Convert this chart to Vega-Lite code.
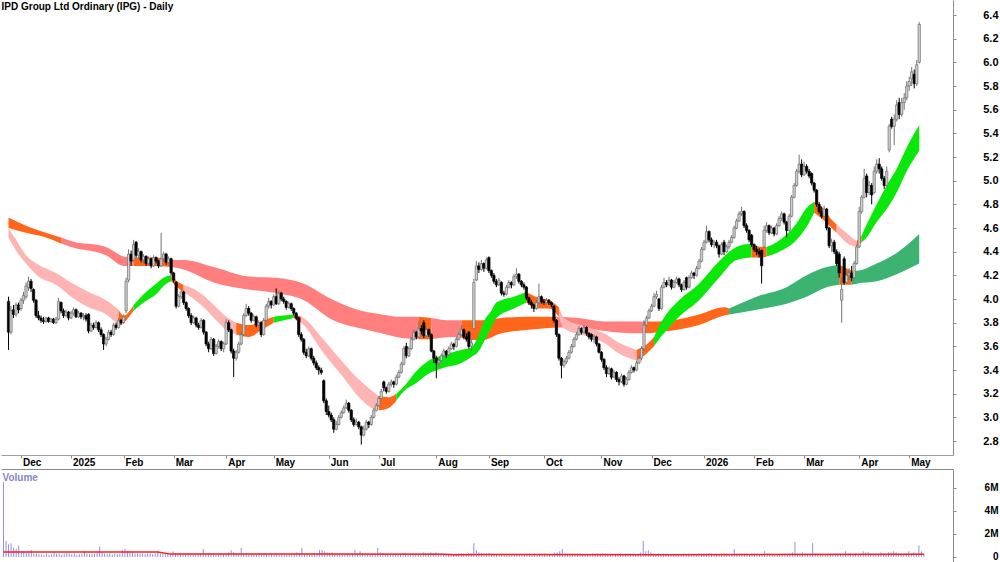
{
"$schema": "https://vega.github.io/schema/vega-lite/v6.json",
"padding": 0,
"background": "white",
"spacing": 0,
"title": {"text": "IPD Group Ltd Ordinary (IPG) - Daily", "anchor": "start", "offset": -20, "baseline": "alphabetic", "font": "Liberation Sans", "fontSize": 10, "fontWeight": "bold", "color": "#000000", "dx": 1},
"config": {
 "view": {"stroke": null},
 "axis": {"labelFont": "Liberation Sans", "labelFontWeight": "bold", "labelColor": "#000000", "domainColor": "#8a8a8a", "tickColor": "#8a8a8a", "grid": false, "title": null, "labelOverlap": false, "labelFlush": false, "labelBound": false}
},
"datasets": {
"c": [
{"i":0,"o":3.98,"h":4.02,"l":3.57,"c":3.72,"v":6.5},
{"i":1,"o":3.72,"h":3.94,"l":3.70,"c":3.90,"v":1.4},
{"i":2,"o":3.91,"h":3.95,"l":3.84,"c":3.87,"v":1.1},
{"i":3,"o":3.87,"h":3.97,"l":3.85,"c":3.95,"v":1.2},
{"i":4,"o":3.95,"h":3.97,"l":3.88,"c":3.91,"v":0.8},
{"i":5,"o":3.92,"h":4.01,"l":3.90,"c":3.99,"v":0.7},
{"i":6,"o":3.99,"h":4.06,"l":3.96,"c":4.03,"v":1.0},
{"i":7,"o":4.02,"h":4.14,"l":4.00,"c":4.11,"v":0.5},
{"i":8,"o":4.10,"h":4.19,"l":4.07,"c":4.15,"v":0.5},
{"i":9,"o":4.15,"h":4.17,"l":4.06,"c":4.09,"v":0.4},
{"i":10,"o":4.08,"h":4.09,"l":3.97,"c":3.99,"v":0.5},
{"i":11,"o":3.99,"h":4.00,"l":3.84,"c":3.86,"v":0.6},
{"i":12,"o":3.86,"h":3.90,"l":3.82,"c":3.84,"v":0.3},
{"i":13,"o":3.84,"h":3.86,"l":3.80,"c":3.82,"v":0.3},
{"i":14,"o":3.82,"h":3.85,"l":3.79,"c":3.81,"v":0.25},
{"i":15,"o":3.81,"h":3.85,"l":3.80,"c":3.84,"v":0.2},
{"i":16,"o":3.84,"h":3.85,"l":3.80,"c":3.81,"v":0.2},
{"i":17,"o":3.81,"h":3.84,"l":3.80,"c":3.83,"v":0.3},
{"i":18,"o":3.83,"h":3.84,"l":3.79,"c":3.80,"v":0.2},
{"i":19,"o":3.80,"h":3.85,"l":3.79,"c":3.83,"v":0.25},
{"i":20,"o":3.83,"h":4.01,"l":3.82,"c":3.98,"v":0.4},
{"i":21,"o":3.97,"h":3.98,"l":3.88,"c":3.90,"v":0.3},
{"i":22,"o":3.90,"h":3.92,"l":3.84,"c":3.86,"v":0.3},
{"i":23,"o":3.86,"h":3.91,"l":3.85,"c":3.89,"v":0.2},
{"i":24,"o":3.89,"h":3.90,"l":3.82,"c":3.84,"v":0.3},
{"i":25,"o":3.84,"h":3.90,"l":3.83,"c":3.88,"v":0.35},
{"i":26,"o":3.88,"h":3.93,"l":3.86,"c":3.91,"v":0.3},
{"i":27,"o":3.91,"h":3.92,"l":3.84,"c":3.85,"v":0.25},
{"i":28,"o":3.85,"h":3.90,"l":3.84,"c":3.88,"v":0.3},
{"i":29,"o":3.88,"h":3.89,"l":3.83,"c":3.85,"v":0.2},
{"i":30,"o":3.85,"h":3.88,"l":3.82,"c":3.86,"v":0.25},
{"i":31,"o":3.86,"h":3.88,"l":3.81,"c":3.83,"v":0.3},
{"i":32,"o":3.87,"h":3.88,"l":3.71,"c":3.73,"v":0.5},
{"i":33,"o":3.73,"h":3.80,"l":3.72,"c":3.78,"v":0.3},
{"i":34,"o":3.78,"h":3.80,"l":3.74,"c":3.76,"v":0.25},
{"i":35,"o":3.76,"h":3.82,"l":3.75,"c":3.80,"v":0.3},
{"i":36,"o":3.80,"h":3.81,"l":3.72,"c":3.74,"v":0.3},
{"i":37,"o":3.74,"h":3.76,"l":3.68,"c":3.70,"v":0.35},
{"i":38,"o":3.70,"h":3.71,"l":3.57,"c":3.62,"v":0.9},
{"i":39,"o":3.62,"h":3.68,"l":3.60,"c":3.66,"v":0.4},
{"i":40,"o":3.66,"h":3.74,"l":3.65,"c":3.72,"v":0.3},
{"i":41,"o":3.72,"h":3.74,"l":3.68,"c":3.70,"v":0.25},
{"i":42,"o":3.70,"h":3.80,"l":3.69,"c":3.78,"v":0.3},
{"i":43,"o":3.78,"h":3.80,"l":3.74,"c":3.76,"v":0.2},
{"i":44,"o":3.76,"h":3.84,"l":3.75,"c":3.82,"v":0.3},
{"i":45,"o":3.82,"h":3.83,"l":3.78,"c":3.80,"v":0.25},
{"i":46,"o":3.80,"h":3.87,"l":3.79,"c":3.85,"v":0.3},
{"i":47,"o":3.90,"h":4.18,"l":3.88,"c":4.15,"v":0.6},
{"i":48,"o":4.16,"h":4.42,"l":4.14,"c":4.38,"v":0.7},
{"i":49,"o":4.38,"h":4.41,"l":4.28,"c":4.32,"v":0.5},
{"i":50,"o":4.33,"h":4.50,"l":4.32,"c":4.46,"v":0.5},
{"i":51,"o":4.48,"h":4.49,"l":4.35,"c":4.37,"v":0.4},
{"i":52,"o":4.37,"h":4.43,"l":4.34,"c":4.40,"v":0.3},
{"i":53,"o":4.40,"h":4.41,"l":4.31,"c":4.33,"v":0.3},
{"i":54,"o":4.33,"h":4.38,"l":4.30,"c":4.36,"v":0.3},
{"i":55,"o":4.36,"h":4.37,"l":4.28,"c":4.30,"v":0.3},
{"i":56,"o":4.30,"h":4.36,"l":4.29,"c":4.34,"v":0.25},
{"i":57,"o":4.34,"h":4.35,"l":4.26,"c":4.28,"v":0.3},
{"i":58,"o":4.28,"h":4.37,"l":4.27,"c":4.35,"v":0.3},
{"i":59,"o":4.35,"h":4.36,"l":4.30,"c":4.32,"v":0.25},
{"i":60,"o":4.32,"h":4.33,"l":4.26,"c":4.28,"v":0.3},
{"i":61,"o":4.28,"h":4.56,"l":4.27,"c":4.34,"v":0.5},
{"i":62,"o":4.34,"h":4.40,"l":4.32,"c":4.38,"v":0.3},
{"i":63,"o":4.38,"h":4.39,"l":4.29,"c":4.31,"v":0.3},
{"i":64,"o":4.31,"h":4.36,"l":4.30,"c":4.34,"v":0.25},
{"i":65,"o":4.34,"h":4.35,"l":4.20,"c":4.22,"v":0.3},
{"i":66,"o":4.22,"h":4.23,"l":4.14,"c":4.16,"v":0.3},
{"i":67,"o":4.14,"h":4.15,"l":3.92,"c":3.94,"v":0.5},
{"i":68,"o":3.94,"h":4.04,"l":3.93,"c":4.02,"v":0.3},
{"i":69,"o":4.02,"h":4.08,"l":4.00,"c":4.06,"v":0.3},
{"i":70,"o":4.06,"h":4.07,"l":3.95,"c":3.97,"v":0.3},
{"i":71,"o":3.97,"h":3.98,"l":3.90,"c":3.92,"v":0.3},
{"i":72,"o":3.92,"h":3.93,"l":3.84,"c":3.86,"v":0.3},
{"i":73,"o":3.86,"h":3.88,"l":3.78,"c":3.80,"v":0.35},
{"i":74,"o":3.80,"h":3.86,"l":3.79,"c":3.84,"v":0.3},
{"i":75,"o":3.84,"h":3.85,"l":3.76,"c":3.78,"v":0.3},
{"i":76,"o":3.78,"h":3.80,"l":3.74,"c":3.76,"v":0.25},
{"i":77,"o":3.76,"h":3.84,"l":3.75,"c":3.82,"v":0.3},
{"i":78,"o":3.82,"h":3.83,"l":3.70,"c":3.72,"v":0.3},
{"i":79,"o":3.72,"h":3.73,"l":3.60,"c":3.62,"v":0.7},
{"i":80,"o":3.62,"h":3.64,"l":3.55,"c":3.58,"v":0.3},
{"i":81,"o":3.58,"h":3.68,"l":3.57,"c":3.66,"v":0.3},
{"i":82,"o":3.66,"h":3.67,"l":3.52,"c":3.54,"v":0.35},
{"i":83,"o":3.54,"h":3.62,"l":3.53,"c":3.60,"v":0.3},
{"i":84,"o":3.60,"h":3.66,"l":3.58,"c":3.64,"v":0.25},
{"i":85,"o":3.64,"h":3.65,"l":3.56,"c":3.58,"v":0.3},
{"i":86,"o":3.58,"h":3.64,"l":3.55,"c":3.62,"v":0.3},
{"i":87,"o":3.62,"h":3.83,"l":3.61,"c":3.80,"v":0.3},
{"i":88,"o":3.80,"h":3.82,"l":3.72,"c":3.74,"v":0.3},
{"i":89,"o":3.74,"h":3.75,"l":3.54,"c":3.56,"v":0.4},
{"i":90,"o":3.56,"h":3.58,"l":3.34,"c":3.50,"v":0.6},
{"i":91,"o":3.50,"h":3.57,"l":3.48,"c":3.55,"v":0.4},
{"i":92,"o":3.55,"h":3.64,"l":3.54,"c":3.62,"v":0.3},
{"i":93,"o":3.62,"h":3.72,"l":3.61,"c":3.70,"v":0.3},
{"i":94,"o":3.70,"h":3.88,"l":3.69,"c":3.86,"v":0.8},
{"i":95,"o":3.86,"h":3.96,"l":3.85,"c":3.92,"v":0.3},
{"i":96,"o":3.92,"h":3.94,"l":3.86,"c":3.88,"v":0.3},
{"i":97,"o":3.88,"h":3.89,"l":3.80,"c":3.82,"v":0.25},
{"i":98,"o":3.82,"h":3.87,"l":3.81,"c":3.85,"v":0.25},
{"i":99,"o":3.85,"h":3.86,"l":3.76,"c":3.78,"v":0.3},
{"i":100,"o":3.78,"h":3.82,"l":3.77,"c":3.80,"v":0.25},
{"i":101,"o":3.80,"h":3.81,"l":3.68,"c":3.70,"v":0.35},
{"i":102,"o":3.70,"h":3.84,"l":3.69,"c":3.82,"v":0.3},
{"i":103,"o":3.82,"h":3.96,"l":3.81,"c":3.94,"v":0.3},
{"i":104,"o":3.94,"h":4.01,"l":3.92,"c":3.98,"v":0.3},
{"i":105,"o":3.98,"h":3.99,"l":3.92,"c":3.95,"v":0.25},
{"i":106,"o":3.95,"h":4.04,"l":3.94,"c":4.02,"v":0.3},
{"i":107,"o":4.02,"h":4.09,"l":3.95,"c":3.96,"v":0.3},
{"i":108,"o":3.96,"h":4.07,"l":3.95,"c":4.05,"v":0.3},
{"i":109,"o":4.05,"h":4.06,"l":3.98,"c":4.00,"v":0.25},
{"i":110,"o":4.00,"h":4.02,"l":3.96,"c":3.98,"v":0.2},
{"i":111,"o":3.98,"h":3.99,"l":3.91,"c":3.93,"v":0.25},
{"i":112,"o":3.93,"h":3.98,"l":3.92,"c":3.96,"v":0.2},
{"i":113,"o":3.96,"h":3.97,"l":3.90,"c":3.92,"v":0.25},
{"i":114,"o":3.92,"h":3.93,"l":3.86,"c":3.88,"v":0.3},
{"i":115,"o":3.88,"h":3.89,"l":3.82,"c":3.84,"v":0.3},
{"i":116,"o":3.84,"h":3.85,"l":3.68,"c":3.70,"v":0.4},
{"i":117,"o":3.70,"h":3.72,"l":3.64,"c":3.66,"v":0.35},
{"i":118,"o":3.66,"h":3.67,"l":3.53,"c":3.55,"v":0.8},
{"i":119,"o":3.55,"h":3.58,"l":3.50,"c":3.52,"v":0.3},
{"i":120,"o":3.52,"h":3.60,"l":3.51,"c":3.58,"v":0.3},
{"i":121,"o":3.58,"h":3.59,"l":3.48,"c":3.50,"v":0.3},
{"i":122,"o":3.50,"h":3.52,"l":3.44,"c":3.46,"v":0.3},
{"i":123,"o":3.46,"h":3.48,"l":3.40,"c":3.42,"v":0.3},
{"i":124,"o":3.42,"h":3.44,"l":3.36,"c":3.40,"v":0.3},
{"i":125,"o":3.40,"h":3.42,"l":3.36,"c":3.38,"v":0.6},
{"i":126,"o":3.31,"h":3.32,"l":3.12,"c":3.14,"v":0.6},
{"i":127,"o":3.14,"h":3.16,"l":3.02,"c":3.05,"v":0.5},
{"i":128,"o":3.05,"h":3.10,"l":3.00,"c":3.02,"v":0.4},
{"i":129,"o":3.02,"h":3.04,"l":2.96,"c":2.98,"v":0.35},
{"i":130,"o":2.98,"h":3.00,"l":2.87,"c":2.90,"v":0.4},
{"i":131,"o":2.90,"h":2.97,"l":2.89,"c":2.94,"v":0.3},
{"i":132,"o":2.94,"h":3.02,"l":2.93,"c":3.00,"v":0.3},
{"i":133,"o":3.00,"h":3.06,"l":2.99,"c":3.04,"v":0.3},
{"i":134,"o":3.04,"h":3.10,"l":3.03,"c":3.08,"v":0.3},
{"i":135,"o":3.08,"h":3.15,"l":3.07,"c":3.12,"v":0.3},
{"i":136,"o":3.12,"h":3.13,"l":3.04,"c":3.06,"v":0.3},
{"i":137,"o":3.06,"h":3.07,"l":2.96,"c":2.98,"v":0.3},
{"i":138,"o":2.98,"h":3.00,"l":2.92,"c":2.94,"v":0.3},
{"i":139,"o":2.94,"h":2.99,"l":2.93,"c":2.96,"v":0.6},
{"i":140,"o":2.96,"h":2.97,"l":2.90,"c":2.92,"v":0.3},
{"i":141,"o":2.92,"h":2.93,"l":2.77,"c":2.85,"v":0.5},
{"i":142,"o":2.85,"h":2.93,"l":2.84,"c":2.90,"v":0.35},
{"i":143,"o":2.90,"h":2.98,"l":2.89,"c":2.96,"v":0.3},
{"i":144,"o":2.96,"h":2.97,"l":2.91,"c":2.94,"v":0.25},
{"i":145,"o":2.94,"h":3.02,"l":2.93,"c":3.00,"v":0.3},
{"i":146,"o":3.00,"h":3.08,"l":2.99,"c":3.06,"v":0.3},
{"i":147,"o":3.06,"h":3.12,"l":3.05,"c":3.10,"v":0.3},
{"i":148,"o":3.10,"h":3.18,"l":3.09,"c":3.16,"v":0.8},
{"i":149,"o":3.16,"h":3.24,"l":3.15,"c":3.22,"v":0.4},
{"i":150,"o":3.30,"h":3.31,"l":3.22,"c":3.25,"v":0.35},
{"i":151,"o":3.25,"h":3.26,"l":3.20,"c":3.22,"v":0.3},
{"i":152,"o":3.22,"h":3.30,"l":3.21,"c":3.28,"v":0.3},
{"i":153,"o":3.28,"h":3.32,"l":3.26,"c":3.30,"v":0.3},
{"i":154,"o":3.30,"h":3.31,"l":3.25,"c":3.28,"v":0.25},
{"i":155,"o":3.28,"h":3.36,"l":3.27,"c":3.34,"v":0.3},
{"i":156,"o":3.34,"h":3.40,"l":3.33,"c":3.38,"v":0.3},
{"i":157,"o":3.38,"h":3.47,"l":3.37,"c":3.45,"v":0.3},
{"i":158,"o":3.45,"h":3.60,"l":3.44,"c":3.58,"v":0.35},
{"i":159,"o":3.60,"h":3.63,"l":3.50,"c":3.52,"v":0.35},
{"i":160,"o":3.52,"h":3.60,"l":3.51,"c":3.58,"v":0.3},
{"i":161,"o":3.58,"h":3.68,"l":3.57,"c":3.66,"v":0.3},
{"i":162,"o":3.66,"h":3.74,"l":3.65,"c":3.72,"v":0.3},
{"i":163,"o":3.72,"h":3.73,"l":3.66,"c":3.68,"v":0.3},
{"i":164,"o":3.68,"h":3.82,"l":3.67,"c":3.75,"v":0.35},
{"i":165,"o":3.75,"h":3.78,"l":3.70,"c":3.73,"v":0.3},
{"i":166,"o":3.80,"h":3.82,"l":3.67,"c":3.69,"v":0.4},
{"i":167,"o":3.69,"h":3.76,"l":3.68,"c":3.74,"v":0.3},
{"i":168,"o":3.74,"h":3.75,"l":3.68,"c":3.70,"v":0.3},
{"i":169,"o":3.70,"h":3.71,"l":3.55,"c":3.56,"v":0.4},
{"i":170,"o":3.56,"h":3.57,"l":3.46,"c":3.50,"v":0.35},
{"i":171,"o":3.50,"h":3.52,"l":3.33,"c":3.46,"v":0.4},
{"i":172,"o":3.46,"h":3.50,"l":3.43,"c":3.48,"v":0.3},
{"i":173,"o":3.48,"h":3.54,"l":3.47,"c":3.52,"v":0.3},
{"i":174,"o":3.52,"h":3.58,"l":3.51,"c":3.56,"v":0.3},
{"i":175,"o":3.56,"h":3.57,"l":3.50,"c":3.53,"v":0.3},
{"i":176,"o":3.53,"h":3.60,"l":3.52,"c":3.58,"v":0.3},
{"i":177,"o":3.58,"h":3.64,"l":3.57,"c":3.62,"v":0.3},
{"i":178,"o":3.62,"h":3.63,"l":3.57,"c":3.60,"v":0.25},
{"i":179,"o":3.60,"h":3.68,"l":3.59,"c":3.66,"v":0.3},
{"i":180,"o":3.66,"h":3.72,"l":3.65,"c":3.70,"v":0.3},
{"i":181,"o":3.70,"h":3.78,"l":3.69,"c":3.74,"v":0.35},
{"i":182,"o":3.74,"h":3.75,"l":3.66,"c":3.68,"v":0.3},
{"i":183,"o":3.68,"h":3.71,"l":3.64,"c":3.66,"v":0.3},
{"i":184,"o":3.72,"h":3.73,"l":3.58,"c":3.60,"v":0.35},
{"i":185,"o":3.60,"h":3.66,"l":3.56,"c":3.63,"v":0.3},
{"i":186,"o":3.75,"h":4.17,"l":3.74,"c":4.14,"v":1.2},
{"i":187,"o":4.16,"h":4.32,"l":4.15,"c":4.28,"v":0.6},
{"i":188,"o":4.28,"h":4.31,"l":4.22,"c":4.25,"v":0.4},
{"i":189,"o":4.25,"h":4.33,"l":4.24,"c":4.30,"v":0.35},
{"i":190,"o":4.30,"h":4.31,"l":4.23,"c":4.26,"v":0.3},
{"i":191,"o":4.26,"h":4.35,"l":4.25,"c":4.33,"v":0.3},
{"i":192,"o":4.35,"h":4.36,"l":4.22,"c":4.24,"v":0.35},
{"i":193,"o":4.24,"h":4.25,"l":4.18,"c":4.20,"v":0.3},
{"i":194,"o":4.20,"h":4.22,"l":4.13,"c":4.15,"v":0.3},
{"i":195,"o":4.15,"h":4.17,"l":4.10,"c":4.12,"v":0.25},
{"i":196,"o":4.12,"h":4.18,"l":4.11,"c":4.16,"v":0.25},
{"i":197,"o":4.14,"h":4.15,"l":4.03,"c":4.05,"v":0.3},
{"i":198,"o":4.05,"h":4.07,"l":4.02,"c":4.04,"v":0.25},
{"i":199,"o":4.04,"h":4.12,"l":4.03,"c":4.10,"v":0.25},
{"i":200,"o":4.10,"h":4.16,"l":4.09,"c":4.14,"v":0.25},
{"i":201,"o":4.14,"h":4.15,"l":4.09,"c":4.12,"v":0.2},
{"i":202,"o":4.12,"h":4.21,"l":4.11,"c":4.19,"v":0.25},
{"i":203,"o":4.19,"h":4.26,"l":4.17,"c":4.21,"v":0.3},
{"i":204,"o":4.21,"h":4.22,"l":4.13,"c":4.15,"v":0.25},
{"i":205,"o":4.15,"h":4.16,"l":4.10,"c":4.12,"v":0.2},
{"i":206,"o":4.12,"h":4.14,"l":4.08,"c":4.10,"v":0.25},
{"i":207,"o":4.10,"h":4.11,"l":3.99,"c":4.01,"v":0.3},
{"i":208,"o":4.01,"h":4.02,"l":3.95,"c":3.97,"v":0.3},
{"i":209,"o":3.97,"h":3.99,"l":3.92,"c":3.95,"v":0.25},
{"i":210,"o":3.95,"h":3.96,"l":3.89,"c":3.92,"v":0.3},
{"i":211,"o":3.92,"h":3.99,"l":3.91,"c":3.97,"v":0.25},
{"i":212,"o":3.97,"h":4.13,"l":3.96,"c":4.02,"v":0.3},
{"i":213,"o":4.02,"h":4.03,"l":3.96,"c":3.98,"v":0.25},
{"i":214,"o":3.98,"h":4.00,"l":3.95,"c":3.97,"v":0.3},
{"i":215,"o":3.97,"h":4.01,"l":3.96,"c":3.99,"v":0.25},
{"i":216,"o":3.99,"h":4.00,"l":3.95,"c":3.97,"v":0.2},
{"i":217,"o":3.97,"h":3.98,"l":3.93,"c":3.95,"v":0.25},
{"i":218,"o":3.94,"h":3.95,"l":3.80,"c":3.82,"v":0.4},
{"i":219,"o":3.82,"h":3.83,"l":3.68,"c":3.70,"v":0.4},
{"i":220,"o":3.70,"h":3.71,"l":3.48,"c":3.50,"v":0.5},
{"i":221,"o":3.50,"h":3.51,"l":3.33,"c":3.44,"v":0.7},
{"i":222,"o":3.44,"h":3.49,"l":3.42,"c":3.47,"v":0.3},
{"i":223,"o":3.47,"h":3.52,"l":3.45,"c":3.50,"v":0.3},
{"i":224,"o":3.50,"h":3.57,"l":3.49,"c":3.55,"v":0.3},
{"i":225,"o":3.55,"h":3.62,"l":3.54,"c":3.60,"v":0.3},
{"i":226,"o":3.60,"h":3.68,"l":3.59,"c":3.66,"v":0.3},
{"i":227,"o":3.66,"h":3.72,"l":3.65,"c":3.70,"v":0.3},
{"i":228,"o":3.70,"h":3.77,"l":3.69,"c":3.75,"v":0.3},
{"i":229,"o":3.75,"h":3.76,"l":3.70,"c":3.72,"v":0.25},
{"i":230,"o":3.72,"h":3.78,"l":3.71,"c":3.76,"v":0.25},
{"i":231,"o":3.76,"h":3.77,"l":3.69,"c":3.71,"v":0.25},
{"i":232,"o":3.71,"h":3.72,"l":3.66,"c":3.68,"v":0.25},
{"i":233,"o":3.70,"h":3.71,"l":3.64,"c":3.66,"v":0.3},
{"i":234,"o":3.66,"h":3.70,"l":3.63,"c":3.68,"v":0.25},
{"i":235,"o":3.68,"h":3.69,"l":3.60,"c":3.62,"v":0.3},
{"i":236,"o":3.62,"h":3.63,"l":3.54,"c":3.55,"v":0.3},
{"i":237,"o":3.55,"h":3.56,"l":3.47,"c":3.49,"v":0.35},
{"i":238,"o":3.49,"h":3.50,"l":3.40,"c":3.42,"v":0.3},
{"i":239,"o":3.42,"h":3.44,"l":3.34,"c":3.37,"v":0.3},
{"i":240,"o":3.37,"h":3.43,"l":3.36,"c":3.41,"v":0.25},
{"i":241,"o":3.41,"h":3.42,"l":3.32,"c":3.34,"v":0.3},
{"i":242,"o":3.34,"h":3.40,"l":3.33,"c":3.38,"v":0.25},
{"i":243,"o":3.38,"h":3.39,"l":3.30,"c":3.32,"v":0.3},
{"i":244,"o":3.32,"h":3.34,"l":3.27,"c":3.30,"v":0.3},
{"i":245,"o":3.30,"h":3.37,"l":3.29,"c":3.35,"v":0.25},
{"i":246,"o":3.35,"h":3.36,"l":3.26,"c":3.28,"v":0.3},
{"i":247,"o":3.28,"h":3.34,"l":3.27,"c":3.32,"v":0.3},
{"i":248,"o":3.32,"h":3.40,"l":3.31,"c":3.38,"v":0.3},
{"i":249,"o":3.38,"h":3.44,"l":3.37,"c":3.42,"v":0.3},
{"i":250,"o":3.42,"h":3.43,"l":3.38,"c":3.40,"v":0.25},
{"i":251,"o":3.40,"h":3.48,"l":3.39,"c":3.46,"v":0.3},
{"i":252,"o":3.46,"h":3.52,"l":3.45,"c":3.50,"v":0.4},
{"i":253,"o":3.50,"h":3.60,"l":3.48,"c":3.58,"v":1.4},
{"i":254,"o":3.58,"h":3.82,"l":3.56,"c":3.78,"v":0.5},
{"i":255,"o":3.78,"h":3.86,"l":3.77,"c":3.84,"v":0.6},
{"i":256,"o":3.84,"h":3.92,"l":3.83,"c":3.90,"v":0.4},
{"i":257,"o":3.90,"h":3.96,"l":3.89,"c":3.94,"v":0.3},
{"i":258,"o":3.94,"h":4.05,"l":3.93,"c":4.02,"v":0.3},
{"i":259,"o":4.02,"h":4.07,"l":4.00,"c":4.04,"v":0.3},
{"i":260,"o":4.00,"h":4.01,"l":3.90,"c":3.92,"v":0.3},
{"i":261,"o":3.92,"h":4.12,"l":3.91,"c":4.10,"v":0.3},
{"i":262,"o":4.10,"h":4.18,"l":4.09,"c":4.14,"v":0.3},
{"i":263,"o":4.14,"h":4.16,"l":4.10,"c":4.12,"v":0.25},
{"i":264,"o":4.12,"h":4.19,"l":4.11,"c":4.16,"v":0.25},
{"i":265,"o":4.16,"h":4.17,"l":4.08,"c":4.10,"v":0.25},
{"i":266,"o":4.10,"h":4.16,"l":4.09,"c":4.14,"v":0.25},
{"i":267,"o":4.14,"h":4.19,"l":4.13,"c":4.17,"v":0.25},
{"i":268,"o":4.17,"h":4.18,"l":4.10,"c":4.12,"v":0.25},
{"i":269,"o":4.12,"h":4.13,"l":4.06,"c":4.08,"v":0.3},
{"i":270,"o":4.08,"h":4.16,"l":4.07,"c":4.14,"v":0.25},
{"i":271,"o":4.18,"h":4.19,"l":4.08,"c":4.10,"v":0.3},
{"i":272,"o":4.10,"h":4.20,"l":4.09,"c":4.18,"v":0.25},
{"i":273,"o":4.18,"h":4.24,"l":4.17,"c":4.22,"v":0.25},
{"i":274,"o":4.22,"h":4.23,"l":4.17,"c":4.20,"v":0.25},
{"i":275,"o":4.20,"h":4.28,"l":4.19,"c":4.26,"v":0.3},
{"i":276,"o":4.26,"h":4.34,"l":4.25,"c":4.32,"v":0.3},
{"i":277,"o":4.32,"h":4.44,"l":4.31,"c":4.42,"v":0.3},
{"i":278,"o":4.42,"h":4.50,"l":4.41,"c":4.48,"v":0.3},
{"i":279,"o":4.48,"h":4.62,"l":4.47,"c":4.57,"v":0.35},
{"i":280,"o":4.57,"h":4.58,"l":4.48,"c":4.50,"v":0.3},
{"i":281,"o":4.50,"h":4.52,"l":4.44,"c":4.46,"v":0.25},
{"i":282,"o":4.46,"h":4.50,"l":4.43,"c":4.48,"v":0.25},
{"i":283,"o":4.48,"h":4.50,"l":4.43,"c":4.45,"v":0.25},
{"i":284,"o":4.45,"h":4.46,"l":4.35,"c":4.38,"v":0.3},
{"i":285,"o":4.38,"h":4.48,"l":4.37,"c":4.46,"v":0.3},
{"i":286,"o":4.48,"h":4.50,"l":4.37,"c":4.40,"v":0.3},
{"i":287,"o":4.40,"h":4.46,"l":4.39,"c":4.44,"v":0.25},
{"i":288,"o":4.44,"h":4.50,"l":4.42,"c":4.48,"v":0.25},
{"i":289,"o":4.48,"h":4.54,"l":4.47,"c":4.52,"v":0.7},
{"i":290,"o":4.52,"h":4.62,"l":4.51,"c":4.60,"v":0.3},
{"i":291,"o":4.60,"h":4.68,"l":4.59,"c":4.66,"v":0.3},
{"i":292,"o":4.66,"h":4.74,"l":4.65,"c":4.72,"v":0.3},
{"i":293,"o":4.72,"h":4.78,"l":4.70,"c":4.74,"v":0.3},
{"i":294,"o":4.74,"h":4.75,"l":4.60,"c":4.62,"v":0.3},
{"i":295,"o":4.62,"h":4.64,"l":4.56,"c":4.58,"v":0.25},
{"i":296,"o":4.58,"h":4.59,"l":4.48,"c":4.50,"v":0.3},
{"i":297,"o":4.54,"h":4.55,"l":4.44,"c":4.46,"v":0.3},
{"i":298,"o":4.46,"h":4.47,"l":4.40,"c":4.42,"v":0.25},
{"i":299,"o":4.42,"h":4.45,"l":4.37,"c":4.40,"v":0.25},
{"i":300,"o":4.40,"h":4.43,"l":4.35,"c":4.38,"v":0.25},
{"i":301,"o":4.41,"h":4.42,"l":4.13,"c":4.28,"v":0.5},
{"i":302,"o":4.44,"h":4.62,"l":4.43,"c":4.58,"v":0.3},
{"i":303,"o":4.58,"h":4.65,"l":4.56,"c":4.62,"v":0.3},
{"i":304,"o":4.62,"h":4.63,"l":4.54,"c":4.56,"v":0.25},
{"i":305,"o":4.56,"h":4.62,"l":4.55,"c":4.60,"v":0.25},
{"i":306,"o":4.60,"h":4.61,"l":4.53,"c":4.55,"v":0.25},
{"i":307,"o":4.55,"h":4.64,"l":4.54,"c":4.62,"v":0.25},
{"i":308,"o":4.62,"h":4.70,"l":4.61,"c":4.68,"v":0.3},
{"i":309,"o":4.68,"h":4.74,"l":4.66,"c":4.72,"v":0.3},
{"i":310,"o":4.72,"h":4.73,"l":4.63,"c":4.65,"v":0.3},
{"i":311,"o":4.65,"h":4.66,"l":4.52,"c":4.58,"v":0.3},
{"i":312,"o":4.58,"h":4.72,"l":4.57,"c":4.70,"v":0.4},
{"i":313,"o":4.70,"h":4.88,"l":4.69,"c":4.86,"v":1.3},
{"i":314,"o":4.86,"h":4.98,"l":4.85,"c":4.96,"v":0.3},
{"i":315,"o":4.96,"h":5.10,"l":4.95,"c":5.08,"v":0.3},
{"i":316,"o":5.08,"h":5.22,"l":5.06,"c":5.14,"v":0.4},
{"i":317,"o":5.14,"h":5.18,"l":5.03,"c":5.05,"v":0.3},
{"i":318,"o":5.05,"h":5.16,"l":5.04,"c":5.12,"v":0.3},
{"i":319,"o":5.12,"h":5.14,"l":5.06,"c":5.08,"v":0.3},
{"i":320,"o":5.08,"h":5.10,"l":5.02,"c":5.04,"v":1.2},
{"i":321,"o":5.06,"h":5.07,"l":4.96,"c":4.98,"v":0.3},
{"i":322,"o":4.98,"h":4.99,"l":4.90,"c":4.92,"v":0.3},
{"i":323,"o":4.92,"h":4.93,"l":4.78,"c":4.80,"v":0.3},
{"i":324,"o":4.80,"h":4.82,"l":4.72,"c":4.74,"v":0.3},
{"i":325,"o":4.74,"h":4.78,"l":4.68,"c":4.70,"v":0.25},
{"i":326,"o":4.70,"h":4.79,"l":4.69,"c":4.76,"v":0.25},
{"i":327,"o":4.76,"h":4.77,"l":4.58,"c":4.60,"v":0.3},
{"i":328,"o":4.60,"h":4.61,"l":4.43,"c":4.45,"v":0.3},
{"i":329,"o":4.45,"h":4.51,"l":4.40,"c":4.48,"v":0.3},
{"i":330,"o":4.48,"h":4.50,"l":4.38,"c":4.40,"v":0.3},
{"i":331,"o":4.40,"h":4.42,"l":4.28,"c":4.30,"v":0.3},
{"i":332,"o":4.38,"h":4.40,"l":4.18,"c":4.22,"v":0.3},
{"i":333,"o":3.99,"h":4.18,"l":3.80,"c":4.08,"v":0.5},
{"i":334,"o":4.34,"h":4.36,"l":4.12,"c":4.14,"v":0.3},
{"i":335,"o":4.14,"h":4.24,"l":4.13,"c":4.20,"v":0.3},
{"i":336,"o":4.20,"h":4.26,"l":4.16,"c":4.22,"v":0.25},
{"i":337,"o":4.22,"h":4.28,"l":4.15,"c":4.18,"v":0.3},
{"i":338,"o":4.18,"h":4.32,"l":4.17,"c":4.30,"v":0.3},
{"i":339,"o":4.30,"h":4.46,"l":4.29,"c":4.44,"v":0.3},
{"i":340,"o":4.44,"h":4.78,"l":4.43,"c":4.74,"v":0.5},
{"i":341,"o":4.74,"h":4.88,"l":4.72,"c":4.86,"v":0.4},
{"i":342,"o":4.86,"h":5.10,"l":4.85,"c":5.02,"v":0.4},
{"i":343,"o":5.04,"h":5.06,"l":4.86,"c":4.90,"v":0.3},
{"i":344,"o":4.90,"h":5.00,"l":4.88,"c":4.96,"v":0.3},
{"i":345,"o":4.96,"h":4.98,"l":4.80,"c":4.88,"v":0.3},
{"i":346,"o":4.90,"h":5.12,"l":4.89,"c":5.08,"v":0.3},
{"i":347,"o":5.08,"h":5.18,"l":5.06,"c":5.14,"v":0.4},
{"i":348,"o":5.14,"h":5.19,"l":5.06,"c":5.10,"v":0.3},
{"i":349,"o":5.10,"h":5.12,"l":5.00,"c":5.02,"v":0.3},
{"i":350,"o":5.02,"h":5.04,"l":4.93,"c":4.96,"v":0.4},
{"i":351,"o":4.96,"h":5.12,"l":4.95,"c":5.08,"v":0.4},
{"i":352,"o":5.26,"h":5.48,"l":5.24,"c":5.46,"v":0.5},
{"i":353,"o":5.52,"h":5.54,"l":5.44,"c":5.46,"v":0.4},
{"i":354,"o":5.46,"h":5.56,"l":5.30,"c":5.52,"v":0.3},
{"i":355,"o":5.52,"h":5.68,"l":5.50,"c":5.64,"v":0.3},
{"i":356,"o":5.66,"h":5.70,"l":5.52,"c":5.56,"v":0.3},
{"i":357,"o":5.56,"h":5.70,"l":5.54,"c":5.66,"v":0.3},
{"i":358,"o":5.66,"h":5.74,"l":5.60,"c":5.70,"v":0.5},
{"i":359,"o":5.70,"h":5.84,"l":5.68,"c":5.80,"v":0.3},
{"i":360,"o":5.80,"h":5.88,"l":5.76,"c":5.84,"v":0.4},
{"i":361,"o":5.86,"h":5.96,"l":5.80,"c":5.92,"v":0.3},
{"i":362,"o":5.90,"h":5.94,"l":5.78,"c":5.82,"v":1.0},
{"i":363,"o":5.82,"h":6.02,"l":5.80,"c":5.98,"v":0.5},
{"i":364,"o":6.00,"h":6.34,"l":5.99,"c":6.32,"v":0.3}
],
"s": [
{"i":0,"a":4.52,"b":4.60,"k":"pink","g":"s1"},{"i":3,"a":4.41,"b":4.50,"k":"pink","g":"s1"},{"i":7,"a":4.30,"b":4.37,"k":"pink","g":"s1"},{"i":12,"a":4.19,"b":4.29,"k":"pink","g":"s1"},{"i":19,"a":4.12,"b":4.22,"k":"pink","g":"s1"},{"i":25,"a":4.02,"b":4.14,"k":"pink","g":"s1"},{"i":32,"a":3.93,"b":4.06,"k":"pink","g":"s1"},{"i":39,"a":3.87,"b":3.99,"k":"pink","g":"s1"},{"i":44,"a":3.78,"b":3.91,"k":"pink","g":"s1"},
{"i":44,"a":3.78,"b":3.91,"k":"orange","g":"s2"},{"i":46,"a":3.80,"b":3.86,"k":"orange","g":"s2"},{"i":50,"a":3.90,"b":3.95,"k":"orange","g":"s2"},
{"i":50,"a":3.90,"b":3.95,"k":"green","g":"s3"},{"i":54,"a":3.97,"b":4.04,"k":"green","g":"s3"},{"i":59,"a":4.04,"b":4.13,"k":"green","g":"s3"},{"i":63,"a":4.13,"b":4.19,"k":"green","g":"s3"},{"i":65,"a":4.15,"b":4.20,"k":"green","g":"s3"},
{"i":65,"a":4.15,"b":4.20,"k":"orange","g":"s4"},{"i":68,"a":4.09,"b":4.14,"k":"orange","g":"s4"},{"i":70,"a":4.06,"b":4.12,"k":"orange","g":"s4"},
{"i":70,"a":4.06,"b":4.12,"k":"pink","g":"s5"},{"i":78,"a":3.93,"b":4.03,"k":"pink","g":"s5"},{"i":83,"a":3.82,"b":3.93,"k":"pink","g":"s5"},{"i":87,"a":3.74,"b":3.85,"k":"pink","g":"s5"},{"i":91,"a":3.70,"b":3.80,"k":"pink","g":"s5"},
{"i":91,"a":3.70,"b":3.80,"k":"orange","g":"s6"},{"i":96,"a":3.68,"b":3.78,"k":"orange","g":"s6"},{"i":102,"a":3.75,"b":3.82,"k":"orange","g":"s6"},{"i":106,"a":3.80,"b":3.85,"k":"orange","g":"s6"},
{"i":106,"a":3.80,"b":3.85,"k":"green","g":"s7"},{"i":110,"a":3.82,"b":3.86,"k":"green","g":"s7"},{"i":114,"a":3.84,"b":3.87,"k":"green","g":"s7"},
{"i":114,"a":3.84,"b":3.87,"k":"orange","g":"s8"},{"i":117,"a":3.80,"b":3.85,"k":"orange","g":"s8"},
{"i":117,"a":3.80,"b":3.85,"k":"pink","g":"s9"},{"i":118,"a":3.78,"b":3.84,"k":"pink","g":"s9"},{"i":125,"a":3.57,"b":3.68,"k":"pink","g":"s9"},{"i":133,"a":3.36,"b":3.48,"k":"pink","g":"s9"},{"i":141,"a":3.15,"b":3.30,"k":"pink","g":"s9"},{"i":145,"a":3.08,"b":3.23,"k":"pink","g":"s9"},{"i":148,"a":3.06,"b":3.18,"k":"pink","g":"s9"},
{"i":148,"a":3.06,"b":3.18,"k":"orange","g":"s10"},{"i":152,"a":3.08,"b":3.17,"k":"orange","g":"s10"},{"i":155,"a":3.14,"b":3.20,"k":"orange","g":"s10"},
{"i":155,"a":3.14,"b":3.20,"k":"green","g":"s11"},{"i":158,"a":3.22,"b":3.26,"k":"green","g":"s11"},{"i":163,"a":3.29,"b":3.39,"k":"green","g":"s11"},{"i":168,"a":3.37,"b":3.48,"k":"green","g":"s11"},{"i":174,"a":3.42,"b":3.53,"k":"green","g":"s11"},{"i":181,"a":3.46,"b":3.57,"k":"green","g":"s11"},{"i":185,"a":3.51,"b":3.59,"k":"green","g":"s11"},{"i":188,"a":3.56,"b":3.70,"k":"green","g":"s11"},{"i":190,"a":3.64,"b":3.81,"k":"green","g":"s11"},{"i":193,"a":3.76,"b":3.90,"k":"green","g":"s11"},{"i":195,"a":3.84,"b":3.97,"k":"green","g":"s11"},{"i":202,"a":3.92,"b":4.02,"k":"green","g":"s11"},{"i":207,"a":3.97,"b":4.06,"k":"green","g":"s11"},
{"i":207,"a":3.97,"b":4.06,"k":"orange","g":"s12"},{"i":212,"a":3.92,"b":4.01,"k":"orange","g":"s12"},{"i":216,"a":3.92,"b":3.99,"k":"orange","g":"s12"},{"i":220,"a":3.85,"b":3.93,"k":"orange","g":"s12"},
{"i":220,"a":3.85,"b":3.93,"k":"pink","g":"s13"},{"i":222,"a":3.75,"b":3.84,"k":"pink","g":"s13"},{"i":232,"a":3.68,"b":3.76,"k":"pink","g":"s13"},{"i":238,"a":3.63,"b":3.71,"k":"pink","g":"s13"},{"i":244,"a":3.54,"b":3.63,"k":"pink","g":"s13"},{"i":251,"a":3.48,"b":3.57,"k":"pink","g":"s13"},
{"i":251,"a":3.48,"b":3.57,"k":"orange","g":"s14"},{"i":254,"a":3.52,"b":3.60,"k":"orange","g":"s14"},{"i":258,"a":3.60,"b":3.68,"k":"orange","g":"s14"},
{"i":258,"a":3.60,"b":3.68,"k":"green","g":"s15"},{"i":260,"a":3.66,"b":3.77,"k":"green","g":"s15"},{"i":264,"a":3.76,"b":3.90,"k":"green","g":"s15"},{"i":268,"a":3.85,"b":3.99,"k":"green","g":"s15"},{"i":276,"a":3.99,"b":4.13,"k":"green","g":"s15"},{"i":284,"a":4.18,"b":4.32,"k":"green","g":"s15"},{"i":291,"a":4.33,"b":4.44,"k":"green","g":"s15"},{"i":297,"a":4.35,"b":4.47,"k":"green","g":"s15"},
{"i":297,"a":4.35,"b":4.47,"k":"orange","g":"s16"},{"i":301,"a":4.35,"b":4.44,"k":"orange","g":"s16"},{"i":303,"a":4.36,"b":4.44,"k":"orange","g":"s16"},
{"i":303,"a":4.36,"b":4.44,"k":"green","g":"s17"},{"i":307,"a":4.39,"b":4.48,"k":"green","g":"s17"},{"i":315,"a":4.50,"b":4.64,"k":"green","g":"s17"},{"i":319,"a":4.61,"b":4.77,"k":"green","g":"s17"},{"i":322,"a":4.73,"b":4.82,"k":"green","g":"s17"},
{"i":322,"a":4.73,"b":4.82,"k":"orange","g":"s18"},{"i":325,"a":4.68,"b":4.78,"k":"orange","g":"s18"},{"i":329,"a":4.60,"b":4.67,"k":"orange","g":"s18"},{"i":331,"a":4.56,"b":4.63,"k":"orange","g":"s18"},
{"i":331,"a":4.56,"b":4.63,"k":"pink","g":"s19"},{"i":336,"a":4.46,"b":4.54,"k":"pink","g":"s19"},{"i":339,"a":4.44,"b":4.49,"k":"pink","g":"s19"},
{"i":339,"a":4.44,"b":4.49,"k":"orange","g":"s20"},{"i":341,"a":4.48,"b":4.54,"k":"orange","g":"s20"},
{"i":341,"a":4.48,"b":4.54,"k":"green","g":"s21"},{"i":343,"a":4.52,"b":4.63,"k":"green","g":"s21"},{"i":347,"a":4.65,"b":4.80,"k":"green","g":"s21"},{"i":351,"a":4.76,"b":4.96,"k":"green","g":"s21"},{"i":355,"a":4.90,"b":5.10,"k":"green","g":"s21"},{"i":359,"a":5.08,"b":5.28,"k":"green","g":"s21"},{"i":364,"a":5.25,"b":5.47,"k":"green","g":"s21"}
],
"g": [
{"i":0,"a":4.60,"b":4.69,"k":"orange","g":"l1"},{"i":7,"a":4.56,"b":4.62,"k":"orange","g":"l1"},{"i":15,"a":4.52,"b":4.56,"k":"orange","g":"l1"},{"i":21,"a":4.47,"b":4.52,"k":"orange","g":"l1"},
{"i":21,"a":4.47,"b":4.52,"k":"red","g":"l2"},{"i":25,"a":4.44,"b":4.49,"k":"red","g":"l2"},{"i":39,"a":4.37,"b":4.44,"k":"red","g":"l2"},{"i":46,"a":4.28,"b":4.36,"k":"red","g":"l2"},{"i":50,"a":4.28,"b":4.35,"k":"red","g":"l2"},
{"i":50,"a":4.28,"b":4.35,"k":"orange","g":"l3"},{"i":58,"a":4.28,"b":4.35,"k":"orange","g":"l3"},{"i":65,"a":4.27,"b":4.33,"k":"orange","g":"l3"},
{"i":65,"a":4.27,"b":4.33,"k":"red","g":"l4"},{"i":70,"a":4.25,"b":4.33,"k":"red","g":"l4"},{"i":82,"a":4.14,"b":4.27,"k":"red","g":"l4"},{"i":96,"a":4.08,"b":4.19,"k":"red","g":"l4"},{"i":107,"a":4.05,"b":4.18,"k":"red","g":"l4"},{"i":118,"a":3.99,"b":4.13,"k":"red","g":"l4"},{"i":129,"a":3.83,"b":4.00,"k":"red","g":"l4"},{"i":141,"a":3.75,"b":3.90,"k":"red","g":"l4"},{"i":149,"a":3.71,"b":3.87,"k":"red","g":"l4"},{"i":157,"a":3.67,"b":3.85,"k":"red","g":"l4"},{"i":164,"a":3.66,"b":3.85,"k":"red","g":"l4"},
{"i":164,"a":3.66,"b":3.85,"k":"orange","g":"l5"},{"i":169,"a":3.66,"b":3.84,"k":"orange","g":"l5"},
{"i":169,"a":3.66,"b":3.84,"k":"red","g":"l6"},{"i":177,"a":3.68,"b":3.82,"k":"red","g":"l6"},{"i":181,"a":3.67,"b":3.82,"k":"red","g":"l6"},
{"i":181,"a":3.67,"b":3.82,"k":"orange","g":"l7"},{"i":189,"a":3.65,"b":3.82,"k":"orange","g":"l7"},{"i":197,"a":3.71,"b":3.84,"k":"orange","g":"l7"},{"i":208,"a":3.74,"b":3.85,"k":"orange","g":"l7"},{"i":219,"a":3.76,"b":3.85,"k":"orange","g":"l7"},
{"i":219,"a":3.76,"b":3.85,"k":"red","g":"l8"},{"i":228,"a":3.76,"b":3.84,"k":"red","g":"l8"},{"i":238,"a":3.73,"b":3.81,"k":"red","g":"l8"},{"i":252,"a":3.71,"b":3.81,"k":"red","g":"l8"},{"i":254,"a":3.71,"b":3.81,"k":"red","g":"l8"},
{"i":254,"a":3.71,"b":3.81,"k":"orange","g":"l9"},{"i":260,"a":3.72,"b":3.81,"k":"orange","g":"l9"},{"i":276,"a":3.78,"b":3.87,"k":"orange","g":"l9"},{"i":286,"a":3.86,"b":3.93,"k":"orange","g":"l9"},{"i":288,"a":3.87,"b":3.92,"k":"orange","g":"l9"},
{"i":288,"a":3.87,"b":3.92,"k":"dgreen","g":"l10"},{"i":299,"a":3.91,"b":4.02,"k":"dgreen","g":"l10"},{"i":311,"a":3.96,"b":4.10,"k":"dgreen","g":"l10"},{"i":319,"a":4.02,"b":4.20,"k":"dgreen","g":"l10"},{"i":327,"a":4.10,"b":4.27,"k":"dgreen","g":"l10"},{"i":332,"a":4.12,"b":4.29,"k":"dgreen","g":"l10"},
{"i":332,"a":4.12,"b":4.29,"k":"orange","g":"l11"},{"i":337,"a":4.12,"b":4.24,"k":"orange","g":"l11"},
{"i":337,"a":4.12,"b":4.24,"k":"dgreen","g":"l12"},{"i":339,"a":4.13,"b":4.24,"k":"dgreen","g":"l12"},{"i":347,"a":4.15,"b":4.30,"k":"dgreen","g":"l12"},{"i":355,"a":4.21,"b":4.39,"k":"dgreen","g":"l12"},{"i":364,"a":4.30,"b":4.55,"k":"dgreen","g":"l12"}
],
"m": [
{"i":0,"m":0.43},{"i":61,"m":0.43},{"i":66,"m":0.25},{"i":120,"m":0.25},{"i":174,"m":0.24},{"i":178,"m":0.2},{"i":190,"m":0.22},{"i":260,"m":0.2},{"i":300,"m":0.22},{"i":364,"m":0.24}
]
},
"vconcat": [
{
 "width": 952,
 "height": 455,
 "layer": [
  {
   "data": {"name": "g"},
   "mark": {"type": "area", "interpolate": "monotone"},
   "encoding": {
    "x": {"field": "i", "type": "quantitative", "scale": {"domain": [-1, 375.5], "nice": false, "zero": false},
      "axis": {"orient": "bottom", "values": [5,25,46,66,87,106,128,148,171,192,214,237,257,278,298,318,340,360], "tickCount": 100,
        "labelExpr": "['Dec','2025','Feb','Mar','Apr','May','Jun','Jul','Aug','Sep','Oct','Nov','Dec','2026','Feb','Mar','Apr','May'][indexof([5,25,46,66,87,106,128,148,171,192,214,237,257,278,298,318,340,360], datum.value)]",
        "labelAlign": "left", "labelBaseline": "top", "labelPadding": -1, "labelOffset": 1.5, "labelFontSize": 10, "tickSize": 3, "domainColor": "#a0a0a0", "labelOverlap": false, "minExtent": 14, "maxExtent": 14}},
    "y": {"field": "a", "type": "quantitative", "scale": {"domain": [2.682, 6.527], "nice": false, "zero": false},
      "axis": {"orient": "right", "values": [2.8,3.0,3.2,3.4,3.6,3.8,4.0,4.2,4.4,4.6,4.8,5.0,5.2,5.4,5.6,5.8,6.0,6.2,6.4], "tickCount": 100, "format": ".1f", "labelAlign": "right", "labelBaseline": "middle", "labelPadding": 42, "tickSize": 3, "labelFontSize": 11, "labelOverlap": false, "labelSeparation": 0, "minExtent": 48, "maxExtent": 48}},
    "y2": {"field": "b"},
    "color": {"field": "k", "type": "nominal", "scale": {"domain": ["pink","green","orange","red","dgreen"], "range": ["#ffb4b4","#0ae80a","#ff6619","#ff7f7f","#3cb371"]}, "legend": null},
    "detail": {"field": "g"}
   }
  },
  {
   "data": {"name": "s"},
   "mark": {"type": "area", "interpolate": "monotone"},
   "encoding": {
    "x": {"field": "i", "type": "quantitative", "scale": {"domain": [-1, 375.5], "nice": false, "zero": false}},
    "y": {"field": "a", "type": "quantitative", "scale": {"domain": [2.682, 6.527], "nice": false, "zero": false}},
    "y2": {"field": "b"},
    "color": {"field": "k", "type": "nominal", "scale": {"domain": ["pink","green","orange","red","dgreen"], "range": ["#ffb4b4","#0ae80a","#ff6619","#ff7f7f","#3cb371"]}, "legend": null},
    "detail": {"field": "g"}
   }
  },
  {
   "data": {"name": "c"},
   "mark": {"type": "rule", "strokeWidth": 1},
   "encoding": {
    "x": {"field": "i", "type": "quantitative", "scale": {"domain": [-1, 375.5], "nice": false, "zero": false}},
    "y": {"field": "l", "type": "quantitative", "scale": {"domain": [2.682, 6.527], "nice": false, "zero": false}},
    "y2": {"field": "h"},
    "color": {"condition": {"test": "datum.c < datum.o", "value": "#000000"}, "value": "#737373"}
   }
  },
  {
   "data": {"name": "c"},
   "mark": {"type": "bar", "width": 2.3, "strokeWidth": 0.7},
   "encoding": {
    "x": {"field": "i", "type": "quantitative", "scale": {"domain": [-1, 375.5], "nice": false, "zero": false}},
    "y": {"field": "o", "type": "quantitative", "scale": {"domain": [2.682, 6.527], "nice": false, "zero": false}},
    "y2": {"field": "c"},
    "fill": {"condition": {"test": "datum.c < datum.o", "value": "#000000"}, "value": "#d0d0d0"},
    "stroke": {"condition": {"test": "datum.c < datum.o", "value": "#000000"}, "value": "#6e6e6e"}
   }
  }
 ]
},
{
 "width": 952,
 "height": 93,
 "title": {"text": "Volume", "anchor": "start", "offset": -22, "baseline": "alphabetic", "font": "Liberation Sans", "fontSize": 10, "fontWeight": "bold", "color": "#8585cc", "dx": 2},
 "layer": [
  {
   "data": {"name": "c"},
   "mark": {"type": "rule", "color": "#8f8fe8", "strokeWidth": 1},
   "encoding": {
    "x": {"field": "i", "type": "quantitative", "scale": {"domain": [-1, 375.5], "nice": false, "zero": false},
      "axis": {"orient": "top", "labels": false, "ticks": false, "domain": true, "domainColor": "#8a8a8a", "minExtent": 0, "maxExtent": 0}},
    "y": {"field": "v", "type": "quantitative", "scale": {"domain": [-0.435, 7.652], "nice": false, "zero": false},
      "axis": {"orient": "right", "values": [0,2,4,6], "tickCount": 100, "labelExpr": "datum.value == 0 ? '0' : datum.value + 'M'", "labelAlign": "right", "labelBaseline": "middle", "labelPadding": 42, "tickSize": 3, "labelFontSize": 10, "labelOverlap": false, "labelSeparation": 0, "minExtent": 48, "maxExtent": 48}},
    "y2": {"datum": 0}
   }
  },
  {
   "data": {"name": "m"},
   "mark": {"type": "line", "color": "#ff1a1a", "strokeWidth": 1.5},
   "encoding": {
    "x": {"field": "i", "type": "quantitative", "scale": {"domain": [-1, 375.5], "nice": false, "zero": false}},
    "y": {"field": "m", "type": "quantitative", "scale": {"domain": [-0.435, 7.652], "nice": false, "zero": false}}
   }
  }
 ]
}
]
}
